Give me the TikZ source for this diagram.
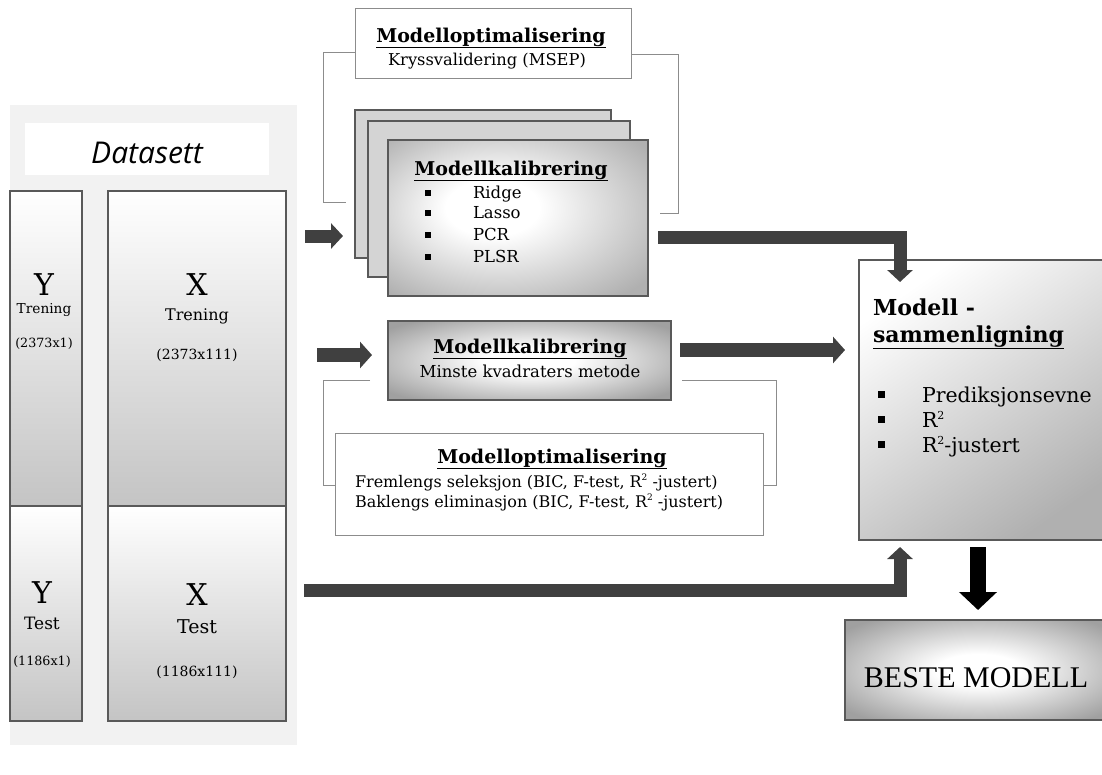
\documentclass[tikz,border=0pt]{standalone}
\usepackage{fontspec}
\setmainfont{DejaVu Serif}
\newfontfamily\dsfont{Open Sans}
\newfontfamily\tmfont{Liberation Serif}
\usetikzlibrary{arrows.meta,calc}
\definecolor{panel}{HTML}{F2F2F2}
\definecolor{edge}{HTML}{595959}
\definecolor{arr}{HTML}{404040}
\definecolor{thinl}{HTML}{8C8C8C}
\definecolor{boxgray}{HTML}{C4C4C4}
\definecolor{stackgray}{HTML}{D4D4D4}
\definecolor{darkgray2}{HTML}{A0A0A0}
\definecolor{midgray}{HTML}{B0B0B0}
\pgfdeclareradialshading{softfront}{\pgfpoint{-6bp}{4bp}}{color(0bp)=(white); color(9bp)=(white); color(34bp)=(midgray); color(50bp)=(midgray)}
\pgfdeclareradialshading{softkal}{\pgfpoint{0bp}{0bp}}{color(0bp)=(white); color(8bp)=(white); color(32bp)=(darkgray2); color(50bp)=(darkgray2)}
\newcommand\fs[2]{\fontsize{#1}{#2}\selectfont}
\newcommand\bx[6]{\node[#2,inner sep=0pt,outer sep=0pt,minimum width={#5-#3},minimum height={#6-#4}] (#1) at ({(#3+#5)/2},{(#4+#6)/2}) {};}
\newcommand\sqb{\rule{6pt}{6pt}}
\newcommand\sqr[1]{\raisebox{0.75ex}{\fontsize{#1}{#1}\selectfont 2}}
\tikzset{
  databox/.style={draw=edge,line width=2pt,top color=white,bottom color=boxgray},
  stackbox/.style={draw=edge,line width=2pt,fill=stackgray},
  whitebox/.style={draw=thinl,line width=1pt,fill=white},
  txt/.style={inner sep=0pt,outer sep=0pt,anchor=base},
  ltxt/.style={inner sep=0pt,outer sep=0pt,anchor=base west},
  blt/.style={inner sep=0pt,outer sep=0pt,anchor=center},
  brk/.style={draw=thinl,line width=1pt},
  darr/.style={draw=arr,line width=13pt,line join=miter,-{Triangle[width=25pt,length=12pt]}},
  marr/.style={draw=arr,line width=14pt,-{Triangle[width=26pt,length=12pt]}},
  barr/.style={draw=black,line width=16pt,-{Triangle[width=37pt,length=18pt]}},
}
\begin{document}
\begin{tikzpicture}[x=1pt,y=-1pt]
\useasboundingbox (0,0) rectangle (1102,774);
% dataset panel
\bx{panel}{fill=panel}{10}{105}{297}{745}
\bx{dsbox}{fill=white}{25}{123}{269}{175}
\node[txt] (dstitle) at (147,163) {\dsfont\itshape\fs{30}{32}Datasett};
\bx{ytr}{databox}{10}{191}{82}{506}
\bx{xtr}{databox}{108}{191}{286}{506}
\bx{yte}{databox}{10}{506}{82}{721}
\bx{xte}{databox}{108}{506}{286}{721}
\node[txt] (ytrY) at (44,295) {\fs{30}{32}Y};
\node[txt] (ytrT) at (44,313) {\fs{13.7}{15}Trening};
\node[txt] (ytrD) at (44,347) {\fs{12.7}{14}(2373x1)};
\node[txt] (xtrX) at (197,295) {\fs{30}{32}X};
\node[txt] (xtrT) at (197,320) {\fs{16}{17}Trening};
\node[txt] (xtrD) at (197,359) {\fs{14}{15}(2373x111)};
\node[txt] (yteY) at (42,603) {\fs{30}{32}Y};
\node[txt] (yteT) at (42,629) {\fs{17}{19}Test};
\node[txt] (yteD) at (42,665) {\fs{12.7}{14}(1186x1)};
\node[txt] (xteX) at (197,605) {\fs{30}{32}X};
\node[txt] (xteT) at (197,633) {\fs{19}{21}Test};
\node[txt] (xteD) at (197,676) {\fs{14}{15}(1186x111)};
% top optimisation box
\bx{optT}{whitebox}{355}{8}{631}{78}
\node[txt] (optTt) at (491,42) {\fs{19}{22}\bfseries\underline{Modelloptimalisering}};
\node[txt] (optTs) at (487,65) {\fs{16.3}{18}Kryssvalidering (MSEP)};
% stack
\bx{sb}{stackbox}{355}{110}{611}{258}
\bx{sm}{stackbox}{368}{121}{630}{277}
\bx{sf}{draw=edge,line width=2pt,shading=softfront}{388}{140}{648}{296}
\draw[brk] ($(optT.west)+(0,9)$) -| (323,202) -- ($(sb.west|-0,202)+(-9,0)$);
\draw[brk] ($(optT.east)+(0,11)$) -| (678,213) -- ($(sf.east|-0,213)+(12,0)$);
\node[txt] (sft) at (511,175) {\fs{19}{22}\bfseries\underline{Modellkalibrering}};
\foreach \yy/\tt [count=\i] in {198/Ridge,218/Lasso,240/PCR,262/PLSR}{
  \node[blt] (sfb\i) at (428,\yy-5) {\sqb};
  \node[ltxt] (sfi\i) at (473,\yy) {\fs{16.5}{18}\tt};
}
% middle calibration
\bx{kal}{draw=edge,line width=2pt,shading=softkal}{388}{321}{671}{400}
\node[txt] (kalt) at (530,353) {\fs{19}{22}\bfseries\underline{Modellkalibrering}};
\node[txt] (kals) at (530,377) {\fs{16.5}{18}Minste kvadraters metode};
% bottom optimisation
\bx{optB}{whitebox}{335}{433}{763}{535}
\node[txt] (optBt) at (552,463) {\fs{19}{22}\bfseries\underline{Modelloptimalisering}};
\node[ltxt] (optB1) at (355,487) {\fs{16}{17}Fremlengs seleksjon (BIC, F-test, R\sqr{9} -justert)};
\node[ltxt] (optB2) at (355,507) {\fs{16}{17}Baklengs eliminasjon (BIC, F-test, R\sqr{9} -justert)};
\draw[brk] ($(kal.west|-0,380)+(-18,0)$) -| (323,485) -- (optB.west|-0,485);
\draw[brk] ($(kal.east|-0,380)+(11,0)$) -| (776,485) -- (optB.east|-0,485);
% comparison box
\bx{main}{draw=edge,line width=2pt,top color=white,bottom color=midgray,shading angle=35}{859}{260}{1112}{540}
\node[ltxt] (mt1) at (873,315) {\fs{22}{26}\bfseries Modell -};
\node[ltxt] (mt2) at (873,342) {\fs{22}{26}\bfseries\underline{sammenligning}};
\foreach \yy/\tt [count=\i] in {402/Prediksjonsevne,427/R\sqr{11},452/R\sqr{11}-justert}{
  \node[blt] (mb\i) at (881,\yy-8) {\rule{7pt}{7pt}};
  \node[ltxt] (mi\i) at (922,\yy) {\fs{20.5}{22}\tt};
}
% best model
\bx{beste}{draw=edge,line width=2pt,shading=softkal}{845}{620}{1112}{720}
\node[txt] (bestet) at (976,687) {\tmfont\fs{30}{32}BESTE MODELL};
% arrows
\coordinate (a1s) at (305,236);
\draw[darr] (a1s) -- ($(sb.west|-a1s)+(-12,0)$);
\draw[darr] ($(sf.east|-0,237)+(10,0)$) -| ($(main.north west)+(41,22)$);
\coordinate (a3s) at (317,355);
\draw[marr] (a3s) -- ($(kal.west|-a3s)+(-16,0)$);
\draw[marr] ($(kal.east|-0,350)+(9,0)$) -- ($(main.west|-0,350)+(-14,0)$);
\coordinate (a5s) at (304,590);
\draw[darr] (a5s) -| ($(main.south west)+(41,7)$);
\draw[barr] ($(main.south west)+(119,7)$) -- ($(beste.north west)+(133,-10)$);
\end{tikzpicture}
\end{document}
